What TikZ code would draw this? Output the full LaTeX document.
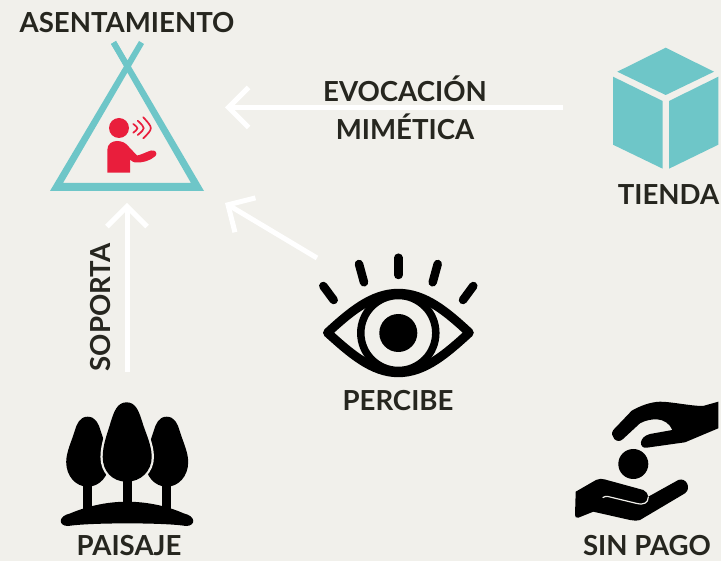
\documentclass[tikz,border=0pt]{standalone}
\usepackage{fontspec}
\setmainfont{Lato}
\usetikzlibrary{arrows.meta}

\definecolor{fondo}{HTML}{F1F0EB}
\definecolor{turquesa}{HTML}{6EC6C8}
\definecolor{rojo}{HTML}{E91E3C}
\definecolor{texto}{HTML}{26261F}

\begin{document}
\begin{tikzpicture}[x=1pt,y=-1pt]

\tikzset{
  etiqueta/.style = {text = texto, inner sep = 0pt, align = center,
                     font = \fontsize{27.6}{38}\selectfont\bfseries},
  flecha/.style = {draw = white, line width = 5pt,
                   -{Straight Barb[length=20pt,width=40pt,line width=5pt]}},
  ceja/.style = {draw = black, line width = 8.5pt, line cap = round},
  onda/.style = {draw = rojo, line width = 1.7pt, line cap = round}}

  \useasboundingbox (0,0) rectangle (721,561);
  \fill[fondo] (0,0) rectangle (721,561);

  % etiquetas
  \node[etiqueta] (asentamiento) at (127,23) {ASENTAMIENTO};
  \node[etiqueta] (evocacion) at (405,108) {EVOCACIÓN\\MIMÉTICA};
  \node[etiqueta] (tienda) at (668.5,195) {TIENDA};
  \node[etiqueta,rotate=90] (soporta) at (101,307.5) {SOPORTA};
  \node[etiqueta] (percibe) at (398,401) {PERCIBE};
  \node[etiqueta] (paisaje) at (129,546) {PAISAJE};
  \node[etiqueta] (sinpago) at (647,546) {SIN PAGO};

  % tipi
  \fill[turquesa] (139,41) -- (144,44) -- (63,183) -- (191,183) -- (111,44)
    -- (116,41) -- (204,191) -- (50,191) -- cycle;
  \fill[turquesa] (111,44) -- (116,41) -- (130,65) -- (124,65) -- cycle;

  % persona
  \fill[rojo] (119,128) circle [radius=10];
  \fill[rojo] (107.3,172.7) -- (107.3,150) .. controls (107.3,144) and (112,141) .. (117,141)
    .. controls (122,141) and (126,143) .. (129,147) -- (137,155.5)
    .. controls (141,155) and (146,152) .. (151,150.5)
    .. controls (155,149.5) and (158,153) .. (155.5,156)
    .. controls (150,161) and (142,163) .. (135,162.5)
    .. controls (133,162) and (131.5,161) .. (130,159.5) -- (130,172.7) -- cycle;
  \draw[onda] (133.3,124) .. controls (138.7,128.3) .. (133.3,132.7);
  \draw[onda] (137.7,120.7) .. controls (145.7,128.3) .. (137.7,135);
  \draw[onda] (143.3,117.3) .. controls (153.3,128.3) .. (143.3,138.3);

  % cubo
  \fill[turquesa] (665.7,47.7) -- (714,71.7) -- (665.7,95) -- (617.3,71.7) -- cycle;
  \fill[turquesa] (613,76.7) -- (662.7,101) -- (662.7,168.7) -- (613,144.7) -- cycle;
  \fill[turquesa] (718.3,76.7) -- (669,101) -- (669,168.7) -- (718.3,144.7) -- cycle;

  % ojo
  \draw[ceja] (398.3,257.7) -- (398.3,275);
  \draw[ceja] (359,264) -- (364,282.3);
  \draw[ceja] (437.7,264) -- (432.7,282.3);
  \draw[ceja] (323.3,286) -- (333.7,300);
  \draw[ceja] (473.3,286) -- (463,300);
  \draw[black,line width=9pt,line join=round] (327.5,332.7)
    .. controls (350,312) and (372,293.3) .. (398.3,293.3)
    .. controls (425,293.3) and (447,312) .. (469.3,332.7)
    .. controls (447,353) and (425,372.7) .. (398.3,372.7)
    .. controls (372,372.7) and (350,353) .. (327.5,332.7) -- cycle;
  \draw[black,line width=7.5pt] (398.3,333) circle [radius=37.5];
  \fill[black] (398.3,333) circle [radius=19];

  % arboles
  \foreach \cx in {87.7,166.7} {
    \fill[black] (\cx-4.5,480) rectangle (\cx+4.5,512);
    \fill[black] (\cx,416.7) .. controls (\cx+8,416.7) and (\cx+11,424) .. (\cx+13,431)
      .. controls (\cx+16,441) and (\cx+21.5,452) .. (\cx+21.5,462)
      .. controls (\cx+21.5,476) and (\cx+12,486.7) .. (\cx,486.7)
      .. controls (\cx-12,486.7) and (\cx-21.5,476) .. (\cx-21.5,462)
      .. controls (\cx-21.5,452) and (\cx-16,441) .. (\cx-13,431)
      .. controls (\cx-11,424) and (\cx-8,416.7) .. (\cx,416.7) -- cycle;
  }
  \filldraw[fill=black,draw=fondo,line width=4.5pt] (126.7,402.3)
    .. controls (136,402.3) and (139,412) .. (142,421)
    .. controls (145,432) and (151.7,444) .. (151.7,457)
    .. controls (151.7,471) and (141,481.7) .. (126.7,481.7)
    .. controls (112,481.7) and (102.7,471) .. (102.7,457)
    .. controls (102.7,444) and (108,432) .. (111,421)
    .. controls (114,412) and (117,402.3) .. (126.7,402.3) -- cycle;
  \fill[black] (126.7,402.3)
    .. controls (136,402.3) and (139,412) .. (142,421)
    .. controls (145,432) and (151.7,444) .. (151.7,457)
    .. controls (151.7,471) and (141,481.7) .. (126.7,481.7)
    .. controls (112,481.7) and (102.7,471) .. (102.7,457)
    .. controls (102.7,444) and (108,432) .. (111,421)
    .. controls (114,412) and (117,402.3) .. (126.7,402.3) -- cycle;
  \fill[black] (122.7,478) rectangle (131.7,510);
  \fill[black] (70,513.5) .. controls (90,505) and (110,501.7) .. (127,501.7)
    .. controls (144,501.7) and (165,505) .. (184,513.5)
    .. controls (196,516) and (196,526) .. (186,526)
    .. controls (165,522.5) and (90,522.5) .. (68,526)
    .. controls (58,526) and (58,516) .. (70,513.5) -- cycle;

  % manos
  \fill[black] (718.3,401.7) -- (703,406) .. controls (690,406) and (672,401.7) .. (660,401.7)
    .. controls (650,402) and (640,406) .. (631.7,410.7) -- (613.3,430)
    .. controls (609,436) and (617,445) .. (623,439) -- (640,423.3)
    .. controls (646,420) and (652,419.3) .. (656.7,419.3)
    .. controls (664,419.5) and (670,424) .. (672.3,430) -- (650,434)
    .. controls (638,437) and (639,449) .. (646.7,447.7) -- (685,442.3) -- (718.3,428.3) -- cycle;
  \fill[black] (633.3,464) circle [radius=15];
  \fill[black] (575.7,491.7) -- (596,480) .. controls (599,478.5) and (602,478.5) .. (605,479.5)
    -- (643.3,490) .. controls (646,491) and (648,494) .. (648.3,496.7) -- (678.3,480)
    .. controls (686,477) and (692,488) .. (685,493.3) -- (640,520)
    .. controls (636,521) and (633,520.5) .. (630,520) -- (593.3,511.7) -- (578.3,517.7)
    .. controls (576,518) and (575,517) .. (575,515) -- cycle;
  \draw[fondo,line width=1.2pt,line cap=round] (603,497.5) .. controls (606,495.5) and (609,496.5) .. (612,497.5)
    -- (637,503.5) .. controls (644,505) and (648,503) .. (648.3,497);

  % flechas
  \coordinate (tiendaini) at (563,107.5);
  \coordinate (tipider) at (225,107.5);
  \coordinate (ojoini) at (317,258);
  \coordinate (tipiojo) at (225,203);
  \coordinate (paisajeini) at (127,372);
  \coordinate (tipiinf) at (127,203);

  \draw[flecha] (tiendaini) -- (tipider);
  \draw[flecha] (ojoini) -- (tipiojo);
  \draw[flecha] (paisajeini) -- (tipiinf);

\end{tikzpicture}
\end{document}
